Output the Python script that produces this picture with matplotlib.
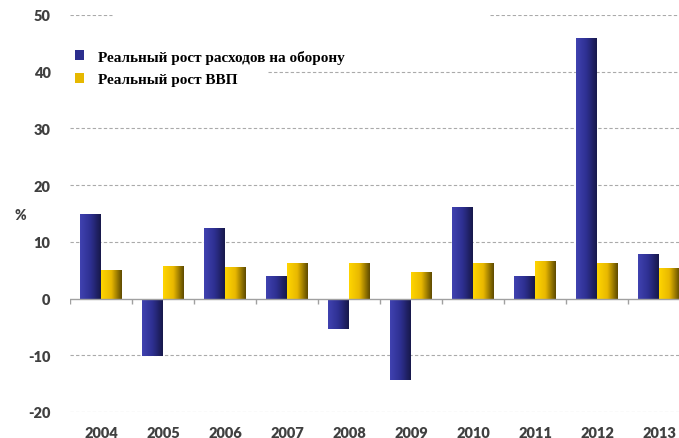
import numpy as np
import matplotlib.pyplot as plt
from matplotlib.colors import LinearSegmentedColormap
from matplotlib.font_manager import FontProperties

plt.rcParams['axes.unicode_minus'] = False

years = ['2004', '2005', '2006', '2007', '2008', '2009', '2010', '2011', '2012', '2013']
defence = [15.0, -10.1, 12.5, 4.0, -5.4, -14.3, 16.1, 4.0, 46.0, 7.9]
gdp = [5.1, 5.8, 5.6, 6.3, 6.2, 4.7, 6.3, 6.6, 6.3, 5.4]
labels = ['Реальный рост расходов на оборону', 'Реальный рост ВВП']

W, H = 679, 439
fig = plt.figure(figsize=(W/100, H/100), dpi=100)
ax = fig.add_axes([70/W, 1-413/H, 620/W, 397/H])
ax.set_xlim(-0.5, len(years)-0.5)
ax.set_ylim(-20, 50)

blue_cm = LinearSegmentedColormap.from_list('b', ['#4042b0', '#2e3092', '#17184a'])
gold_cm = LinearSegmentedColormap.from_list('g', ['#ffd500', '#e8b800', '#5e4a00'])
grad = np.linspace(0, 1, 64).reshape(1, -1)

x = np.arange(len(years))
w = 0.335
b1 = ax.bar(x - w/2, defence, w, color='#2c2e8e', zorder=3)
b2 = ax.bar(x + w/2, gdp, w, color='#e6b800', zorder=3)
for bars, cm in ((b1, blue_cm), (b2, gold_cm)):
    for r in bars:
        x0, y0 = r.get_x(), r.get_y()
        x1, y1 = x0 + r.get_width(), y0 + r.get_height()
        im = ax.imshow(grad, cmap=cm, aspect='auto', extent=(x0, x1, min(y0, y1), max(y0, y1)),
                       zorder=4, interpolation='bicubic')
        im.set_clip_path(r)

# dashed gridlines (partly hidden behind the legend area)
gs = dict(color='#aaaaaa', lw=0.8, ls=(0, (3, 2)), zorder=1)
for v in [30, 20, 10, -10, -20]:
    ax.axhline(v, **gs)
ax.axhline(50, 0, (112-70)/620, **gs)
ax.axhline(50, (490-70)/620, 1, **gs)
ax.axhline(40, (268-70)/620, 1, **gs)

# zero line with small category ticks
ax.axhline(0, color='#a0a0a0', lw=1.0, zorder=5)
ax.vlines(np.arange(len(years)+1) - 0.5, -0.9, 0, color='#a0a0a0', lw=1.0, zorder=5)

for s in ax.spines.values():
    s.set_visible(False)
ax.set_xticks(x)
ax.set_xticklabels(years)
ax.set_yticks(range(-20, 51, 10))
ax.tick_params(length=0, colors='#404040', labelsize=10.5)
ax.tick_params(axis='y', pad=14)
ax.tick_params(axis='x', pad=10)
for t in ax.get_xticklabels() + ax.get_yticklabels():
    t.set_fontfamily('Lato')
    t.set_fontweight('heavy')

fig.text(20/W, 1-215/H, '%', fontfamily='Lato', fontweight='heavy', fontsize=10,
         color='#404040', ha='center', va='center')

legfont = FontProperties(family='Liberation Serif', weight='bold', size=11)
leg = ax.legend([b1, b2], labels, loc='upper left', bbox_to_anchor=(67/W, 1-43/H),
                bbox_transform=fig.transFigure, frameon=False, borderpad=0,
                handlelength=0.6, handleheight=0.6, handletextpad=0.9, labelspacing=0.6,
                prop=legfont)

fig.savefig('out.png', dpi=100)
